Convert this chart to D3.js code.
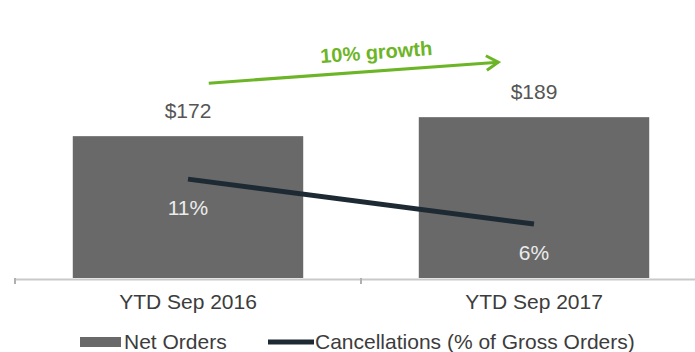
<!DOCTYPE html>
<html>
<head>
<meta charset="utf-8">
<script src="https://cdn.jsdelivr.net/npm/d3@7"></script>
<style>
  html, body { margin: 0; padding: 0; background: #ffffff; }
  svg { display: block; font-family: "Liberation Sans", Arial, sans-serif; }
</style>
</head>
<body>
<svg id="chart" width="695" height="352"></svg>
<script>
// Net orders (bars, $) and cancellation rate (line, % of gross orders)
const categories = ["YTD Sep 2016", "YTD Sep 2017"];
const netOrders = [172, 189];
const netOrderLabels = ["$172", "$189"];
const cancellations = [11, 6];
const cancellationLabels = ["11%", "6%"];
const legendLabels = ["Net Orders", "Cancellations (% of Gross Orders)"];
const growthLabel = "10% growth";

const svg = d3.select("#chart");
const plot = { left: 15, right: 707, top: 20, bottom: 278 };
const fontSize = 21;

const x = d3.scaleBand()
  .domain(categories)
  .range([plot.left, plot.right])
  .paddingInner(0)
  .paddingOuter(0);

const barPad = 0.334; // fraction of each band left empty around the bar
const barW = x.bandwidth() * (1 - barPad);
const cx = d => x(d) + x.bandwidth() / 2;

// primary value axis (hidden) for net orders
const y = d3.scaleLinear().domain([45, 276]).range([plot.bottom, plot.top]);
// secondary value axis (hidden) for cancellation %
const y2 = d3.scaleLinear().domain([0, 28.7]).range([plot.bottom, plot.top]);

const barColor = "#696969";
const lineColor = "#1e2a33";
const green = "#6cb526";

// bars
svg.append("g").selectAll("rect")
  .data(categories)
  .join("rect")
  .attr("x", d => cx(d) - barW / 2)
  .attr("width", barW)
  .attr("y", (d, i) => y(netOrders[i]))
  .attr("height", (d, i) => plot.bottom - y(netOrders[i]))
  .attr("fill", barColor);

// category axis
const axis = d3.axisBottom(x).tickSize(0).tickFormat(d => d);
const gx = svg.append("g")
  .attr("transform", `translate(0,${plot.bottom + 1})`)
  .call(axis);
gx.select(".domain").attr("stroke", "#c9c9c9").attr("stroke-width", 2);
gx.selectAll(".tick text")
  .attr("dy", 0)
  .attr("y", 30)
  .attr("fill", "#3c3c3c")
  .attr("font-size", fontSize)
  .attr("font-family", "Liberation Sans, Arial, sans-serif");
// band boundary ticks
svg.append("g").selectAll("line")
  .data(categories)
  .join("line")
  .attr("x1", d => x(d)).attr("x2", d => x(d))
  .attr("y1", plot.bottom).attr("y2", plot.bottom + 6)
  .attr("stroke", "#b0b0b0").attr("stroke-width", 2);

// bar value labels
svg.append("g").selectAll("text")
  .data(categories)
  .join("text")
  .attr("x", d => cx(d))
  .attr("y", (d, i) => y(netOrders[i]) - 18)
  .attr("text-anchor", "middle")
  .attr("font-size", fontSize)
  .attr("fill", "#555555")
  .text((d, i) => netOrderLabels[i]);

// cancellation line
const line = d3.line()
  .x((d, i) => cx(categories[i]))
  .y(d => y2(d));
svg.append("path")
  .datum(cancellations)
  .attr("d", line)
  .attr("fill", "none")
  .attr("stroke", lineColor)
  .attr("stroke-width", 5);

// cancellation labels
svg.append("g").selectAll("text")
  .data(categories)
  .join("text")
  .attr("x", d => cx(d))
  .attr("y", (d, i) => y2(cancellations[i]) + 36)
  .attr("text-anchor", "middle")
  .attr("font-size", fontSize)
  .attr("fill", "#ececec")
  .text((d, i) => cancellationLabels[i]);

// growth arrow between the bars
const ax1 = cx(categories[0]) + barW * 0.09;
const ay1 = y(netOrders[0]) - 53;
const ax2 = cx(categories[1]) - barW * 0.155;
const ay2 = y(netOrders[1]) - 55;
const ang = Math.atan2(ay2 - ay1, ax2 - ax1);
const head = 14, spread = 0.55;
svg.append("line")
  .attr("x1", ax1).attr("y1", ay1).attr("x2", ax2).attr("y2", ay2)
  .attr("stroke", green).attr("stroke-width", 3);
svg.append("path")
  .attr("d", `M${ax2 - head * Math.cos(ang - spread)},${ay2 - head * Math.sin(ang - spread)}
              L${ax2},${ay2}
              L${ax2 - head * Math.cos(ang + spread)},${ay2 - head * Math.sin(ang + spread)}`)
  .attr("fill", "none")
  .attr("stroke", green).attr("stroke-width", 3)
  .attr("stroke-linejoin", "miter");
const tx = ax1 + (ax2 - ax1) * 0.58, ty = ay1 + (ay2 - ay1) * 0.58 - 12;
svg.append("text")
  .attr("transform", `translate(${tx},${ty}) rotate(${ang * 180 / Math.PI})`)
  .attr("text-anchor", "middle")
  .attr("font-size", 20)
  .attr("font-weight", "bold")
  .attr("fill", green)
  .text(growthLabel);

// legend
const lg = svg.append("g").attr("transform", "translate(0,342)");
lg.append("rect").attr("x", 80).attr("y", -5).attr("width", 41).attr("height", 10).attr("fill", barColor);
lg.append("text").attr("x", 124).attr("y", 7).attr("font-size", fontSize).attr("fill", "#3c3c3c").text(legendLabels[0]);
lg.append("line").attr("x1", 268).attr("x2", 314).attr("y1", 0).attr("y2", 0)
  .attr("stroke", lineColor).attr("stroke-width", 5);
lg.append("text").attr("x", 315).attr("y", 7).attr("font-size", fontSize).attr("fill", "#3c3c3c").text(legendLabels[1]);
</script>
</body>
</html>
